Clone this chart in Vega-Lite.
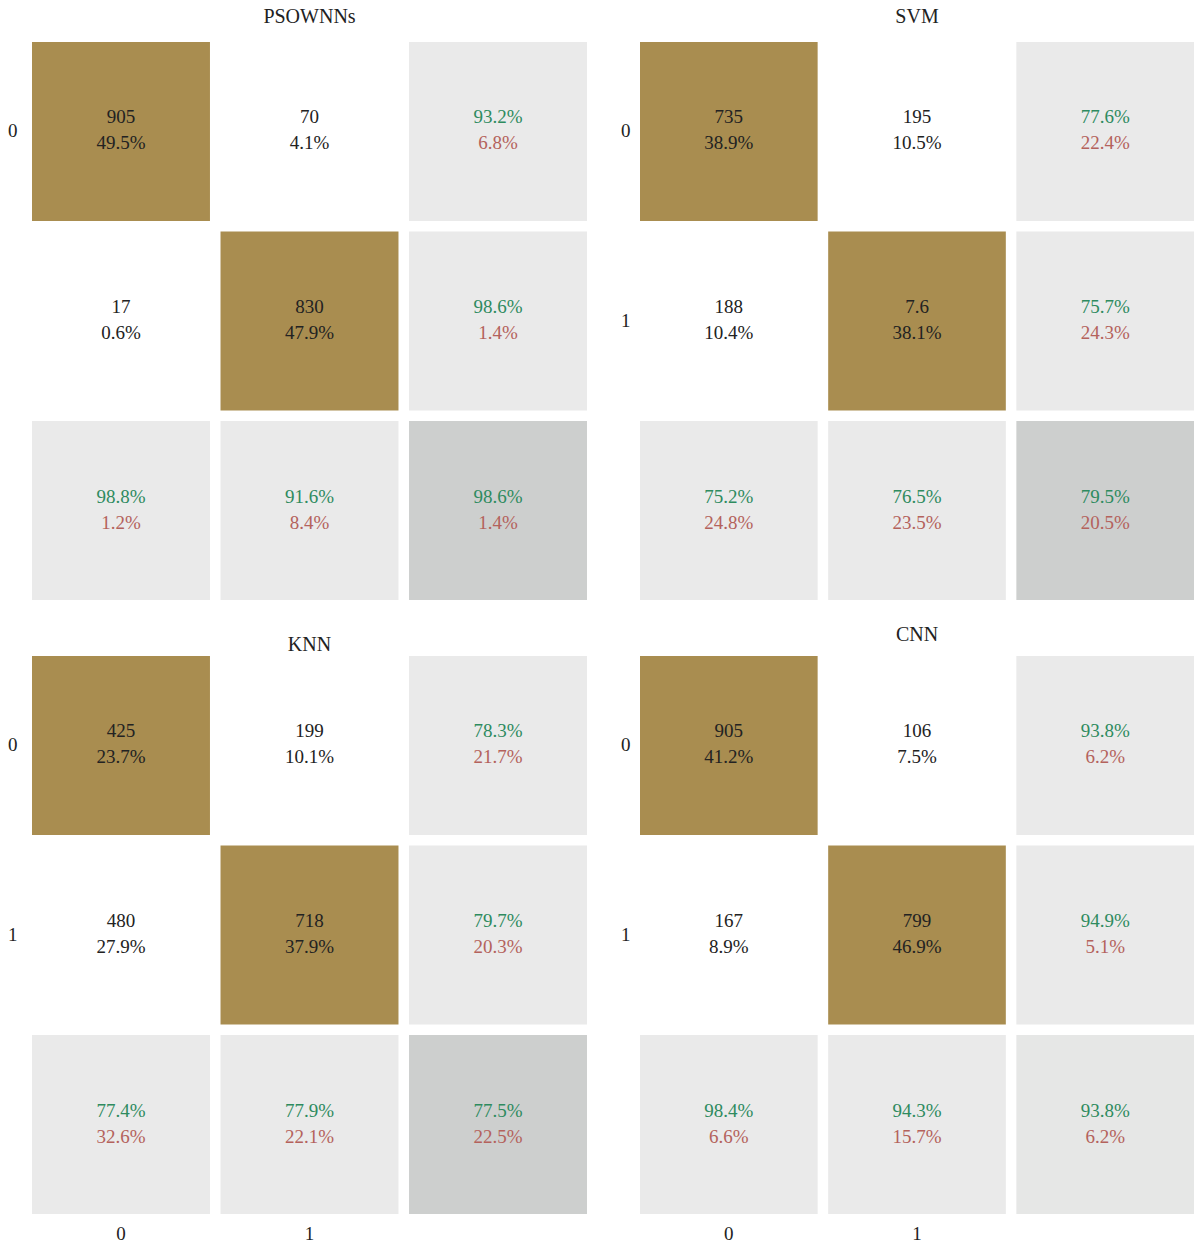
{
  "$schema": "https://vega.github.io/schema/vega-lite/v6.json",
  "padding": {"left": 7, "top": 7, "right": 0, "bottom": 0},
  "background": "white",
  "config": {
    "view": {"stroke": null},
    "font": "Liberation Serif",
    "title": {"font": "Liberation Serif", "fontSize": 20, "fontWeight": "normal", "color": "#222222", "baseline": "bottom", "anchor": "middle"},
    "axis": {"labelFont": "Liberation Serif", "labelFontSize": 19, "labelColor": "#222222", "domain": false, "ticks": false, "grid": false, "title": null, "labelAngle": 0}
  },
  "data": {"values": [
    {"m": "PSOWNNs", "r": 0, "c": 0, "a": "905", "b": "49.5%", "t": "d"},
    {"m": "PSOWNNs", "r": 0, "c": 1, "a": "70", "b": "4.1%", "t": "o"},
    {"m": "PSOWNNs", "r": 0, "c": 2, "a": "93.2%", "b": "6.8%", "t": "m"},
    {"m": "PSOWNNs", "r": 1, "c": 0, "a": "17", "b": "0.6%", "t": "o"},
    {"m": "PSOWNNs", "r": 1, "c": 1, "a": "830", "b": "47.9%", "t": "d"},
    {"m": "PSOWNNs", "r": 1, "c": 2, "a": "98.6%", "b": "1.4%", "t": "m"},
    {"m": "PSOWNNs", "r": 2, "c": 0, "a": "98.8%", "b": "1.2%", "t": "m"},
    {"m": "PSOWNNs", "r": 2, "c": 1, "a": "91.6%", "b": "8.4%", "t": "m"},
    {"m": "PSOWNNs", "r": 2, "c": 2, "a": "98.6%", "b": "1.4%", "t": "t"},
    {"m": "SVM", "r": 0, "c": 0, "a": "735", "b": "38.9%", "t": "d"},
    {"m": "SVM", "r": 0, "c": 1, "a": "195", "b": "10.5%", "t": "o"},
    {"m": "SVM", "r": 0, "c": 2, "a": "77.6%", "b": "22.4%", "t": "m"},
    {"m": "SVM", "r": 1, "c": 0, "a": "188", "b": "10.4%", "t": "o"},
    {"m": "SVM", "r": 1, "c": 1, "a": "7.6", "b": "38.1%", "t": "d"},
    {"m": "SVM", "r": 1, "c": 2, "a": "75.7%", "b": "24.3%", "t": "m"},
    {"m": "SVM", "r": 2, "c": 0, "a": "75.2%", "b": "24.8%", "t": "m"},
    {"m": "SVM", "r": 2, "c": 1, "a": "76.5%", "b": "23.5%", "t": "m"},
    {"m": "SVM", "r": 2, "c": 2, "a": "79.5%", "b": "20.5%", "t": "t"},
    {"m": "KNN", "r": 0, "c": 0, "a": "425", "b": "23.7%", "t": "d"},
    {"m": "KNN", "r": 0, "c": 1, "a": "199", "b": "10.1%", "t": "o"},
    {"m": "KNN", "r": 0, "c": 2, "a": "78.3%", "b": "21.7%", "t": "m"},
    {"m": "KNN", "r": 1, "c": 0, "a": "480", "b": "27.9%", "t": "o"},
    {"m": "KNN", "r": 1, "c": 1, "a": "718", "b": "37.9%", "t": "d"},
    {"m": "KNN", "r": 1, "c": 2, "a": "79.7%", "b": "20.3%", "t": "m"},
    {"m": "KNN", "r": 2, "c": 0, "a": "77.4%", "b": "32.6%", "t": "m"},
    {"m": "KNN", "r": 2, "c": 1, "a": "77.9%", "b": "22.1%", "t": "m"},
    {"m": "KNN", "r": 2, "c": 2, "a": "77.5%", "b": "22.5%", "t": "t"},
    {"m": "CNN", "r": 0, "c": 0, "a": "905", "b": "41.2%", "t": "d"},
    {"m": "CNN", "r": 0, "c": 1, "a": "106", "b": "7.5%", "t": "o"},
    {"m": "CNN", "r": 0, "c": 2, "a": "93.8%", "b": "6.2%", "t": "m"},
    {"m": "CNN", "r": 1, "c": 0, "a": "167", "b": "8.9%", "t": "o"},
    {"m": "CNN", "r": 1, "c": 1, "a": "799", "b": "46.9%", "t": "d"},
    {"m": "CNN", "r": 1, "c": 2, "a": "94.9%", "b": "5.1%", "t": "m"},
    {"m": "CNN", "r": 2, "c": 0, "a": "98.4%", "b": "6.6%", "t": "m"},
    {"m": "CNN", "r": 2, "c": 1, "a": "94.3%", "b": "15.7%", "t": "m"},
    {"m": "CNN", "r": 2, "c": 2, "a": "93.8%", "b": "6.2%", "t": "u"}
  ]},
  "spacing": 25,
  "vconcat": [
    {
      "spacing": 33,
      "hconcat": [
        {
          "width": 555, "height": 558,
          "title": {"text": "PSOWNNs", "offset": 15},
          "transform": [{"filter": "datum.m === 'PSOWNNs'"}],
          "encoding": {
            "x": {"field": "c", "type": "ordinal", "axis": null, "scale": {"paddingInner": 0.056, "paddingOuter": 0}},
            "y": {"field": "r", "type": "ordinal", "scale": {"paddingInner": 0.056, "paddingOuter": 0}, "axis": {"labelPadding": 15, "labelExpr": "datum.value == 0 ? datum.label : ''"}}
          },
          "layer": [
            {"mark": {"type": "rect"}, "encoding": {"fill": {"field": "t", "type": "nominal", "legend": null, "scale": {"domain": ["d", "o", "m", "t", "u"], "range": ["#A98D50", "#FFFFFF", "#EAEAEA", "#CDCFCE", "#E6E7E6"]}}}},
            {"mark": {"type": "text", "fontSize": 19, "baseline": "alphabetic", "dy": -8, "font": "Liberation Serif"}, "encoding": {"text": {"field": "a"}, "color": {"condition": {"test": "datum.t !== 'd' && datum.t !== 'o'", "value": "#2E8B5F"}, "value": "#222222"}}},
            {"mark": {"type": "text", "fontSize": 19, "baseline": "alphabetic", "dy": 18, "font": "Liberation Serif"}, "encoding": {"text": {"field": "b"}, "color": {"condition": {"test": "datum.t !== 'd' && datum.t !== 'o'", "value": "#B4625C"}, "value": "#222222"}}}
          ]
        },
        {
          "width": 554, "height": 558,
          "title": {"text": "SVM", "offset": 15},
          "transform": [{"filter": "datum.m === 'SVM'"}],
          "encoding": {
            "x": {"field": "c", "type": "ordinal", "axis": null, "scale": {"paddingInner": 0.056, "paddingOuter": 0}},
            "y": {"field": "r", "type": "ordinal", "scale": {"paddingInner": 0.056, "paddingOuter": 0}, "axis": {"labelPadding": 10, "labelExpr": "datum.value < 2 ? datum.label : ''"}}
          },
          "layer": [
            {"mark": {"type": "rect"}, "encoding": {"fill": {"field": "t", "type": "nominal", "legend": null, "scale": {"domain": ["d", "o", "m", "t", "u"], "range": ["#A98D50", "#FFFFFF", "#EAEAEA", "#CDCFCE", "#E6E7E6"]}}}},
            {"mark": {"type": "text", "fontSize": 19, "baseline": "alphabetic", "dy": -8, "font": "Liberation Serif"}, "encoding": {"text": {"field": "a"}, "color": {"condition": {"test": "datum.t !== 'd' && datum.t !== 'o'", "value": "#2E8B5F"}, "value": "#222222"}}},
            {"mark": {"type": "text", "fontSize": 19, "baseline": "alphabetic", "dy": 18, "font": "Liberation Serif"}, "encoding": {"text": {"field": "b"}, "color": {"condition": {"test": "datum.t !== 'd' && datum.t !== 'o'", "value": "#B4625C"}, "value": "#222222"}}}
          ]
        }
      ]
    },
    {
      "spacing": 33,
      "hconcat": [
        {
          "width": 555, "height": 558,
          "title": {"text": ["", "KNN"], "offset": 1, "lineHeight": 10},
          "transform": [{"filter": "datum.m === 'KNN'"}],
          "encoding": {
            "x": {"field": "c", "type": "ordinal", "scale": {"paddingInner": 0.056, "paddingOuter": 0}, "axis": {"orient": "bottom", "labelPadding": 10, "labelExpr": "datum.value < 2 ? datum.label : ''"}},
            "y": {"field": "r", "type": "ordinal", "scale": {"paddingInner": 0.056, "paddingOuter": 0}, "axis": {"labelPadding": 15, "labelExpr": "datum.value < 2 ? datum.label : ''"}}
          },
          "layer": [
            {"mark": {"type": "rect"}, "encoding": {"fill": {"field": "t", "type": "nominal", "legend": null, "scale": {"domain": ["d", "o", "m", "t", "u"], "range": ["#A98D50", "#FFFFFF", "#EAEAEA", "#CDCFCE", "#E6E7E6"]}}}},
            {"mark": {"type": "text", "fontSize": 19, "baseline": "alphabetic", "dy": -8, "font": "Liberation Serif"}, "encoding": {"text": {"field": "a"}, "color": {"condition": {"test": "datum.t !== 'd' && datum.t !== 'o'", "value": "#2E8B5F"}, "value": "#222222"}}},
            {"mark": {"type": "text", "fontSize": 19, "baseline": "alphabetic", "dy": 18, "font": "Liberation Serif"}, "encoding": {"text": {"field": "b"}, "color": {"condition": {"test": "datum.t !== 'd' && datum.t !== 'o'", "value": "#B4625C"}, "value": "#222222"}}}
          ]
        },
        {
          "width": 554, "height": 558,
          "title": {"text": "CNN", "offset": 11},
          "transform": [{"filter": "datum.m === 'CNN'"}],
          "encoding": {
            "x": {"field": "c", "type": "ordinal", "scale": {"paddingInner": 0.056, "paddingOuter": 0}, "axis": {"orient": "bottom", "labelPadding": 10, "labelExpr": "datum.value < 2 ? datum.label : ''"}},
            "y": {"field": "r", "type": "ordinal", "scale": {"paddingInner": 0.056, "paddingOuter": 0}, "axis": {"labelPadding": 10, "labelExpr": "datum.value < 2 ? datum.label : ''"}}
          },
          "layer": [
            {"mark": {"type": "rect"}, "encoding": {"fill": {"field": "t", "type": "nominal", "legend": null, "scale": {"domain": ["d", "o", "m", "t", "u"], "range": ["#A98D50", "#FFFFFF", "#EAEAEA", "#CDCFCE", "#E6E7E6"]}}}},
            {"mark": {"type": "text", "fontSize": 19, "baseline": "alphabetic", "dy": -8, "font": "Liberation Serif"}, "encoding": {"text": {"field": "a"}, "color": {"condition": {"test": "datum.t !== 'd' && datum.t !== 'o'", "value": "#2E8B5F"}, "value": "#222222"}}},
            {"mark": {"type": "text", "fontSize": 19, "baseline": "alphabetic", "dy": 18, "font": "Liberation Serif"}, "encoding": {"text": {"field": "b"}, "color": {"condition": {"test": "datum.t !== 'd' && datum.t !== 'o'", "value": "#B4625C"}, "value": "#222222"}}}
          ]
        }
      ]
    }
  ]
}
